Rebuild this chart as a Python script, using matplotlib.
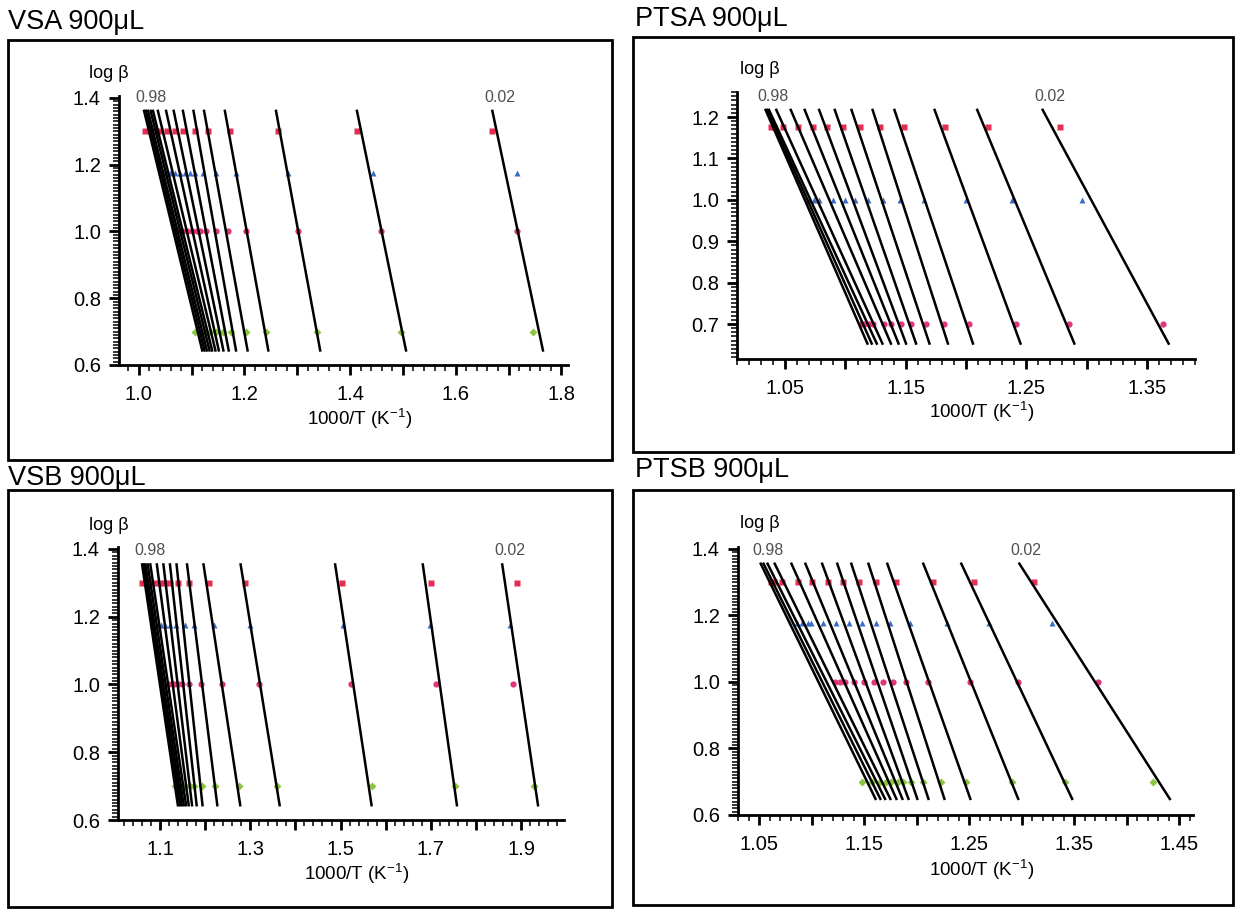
import numpy as np
import matplotlib
matplotlib.use("Agg")
import matplotlib.pyplot as plt
from matplotlib.patches import Rectangle
from matplotlib.ticker import FixedLocator, MultipleLocator, FuncFormatter

plt.rcParams['font.family'] = ['Liberation Sans', 'DejaVu Sans']
plt.rcParams['mathtext.fontset'] = 'custom'
plt.rcParams['mathtext.rm'] = 'Liberation Sans'

# ---------------- data ----------------
LEVEL_20 = np.log10(20)
LEVEL_15 = np.log10(15)
LEVEL_10 = np.log10(10)
LEVEL_5 = np.log10(5)

# VSA 900uL
vsa_line_top = [1.0094, 1.0131, 1.0169, 1.0219, 1.0263, 1.0356, 1.0512, 1.0656, 1.0831, 1.1031, 1.1231, 1.1625, 1.2593, 1.4125, 1.6688]
vsa_line_bot = [1.1206, 1.1250, 1.1294, 1.1344, 1.1394, 1.1456, 1.1519, 1.1606, 1.1706, 1.1844, 1.2063, 1.2456, 1.3438, 1.5063, 1.7656]
vsa_line_y = [1.365, 0.64]
vsa_red = [1.0126, 1.0219, 1.0313, 1.0407, 1.0531, 1.0688, 1.0844, 1.1063, 1.1313, 1.1719, 1.2644, 1.4138, 1.6688]
vsa_blue = [1.05, 1.0594, 1.0688, 1.0781, 1.0875, 1.0969, 1.1063, 1.1219, 1.1456, 1.1844, 1.2831, 1.4438, 1.7156]
vsa_magenta = [1.0719, 1.0813, 1.0906, 1.1, 1.1094, 1.1156, 1.1281, 1.1469, 1.1688, 1.2031, 1.3019, 1.4594, 1.7156]
vsa_green = [1.1063, 1.1157, 1.1251, 1.1344, 1.1468, 1.1594, 1.1749, 1.2031, 1.2406, 1.3375, 1.4956, 1.7456]

# PTSA 900uL
ptsa_line_top = [1.0333, 1.0347, 1.0361, 1.0422, 1.0542, 1.0658, 1.0778, 1.0908, 1.1047, 1.1222, 1.1403, 1.1736, 1.2089, 1.2631]
ptsa_line_bot = [1.1186, 1.1222, 1.1264, 1.1311, 1.1381, 1.1444, 1.1506, 1.1589, 1.1700, 1.1853, 1.2061, 1.2456, 1.2903, 1.3686]
ptsa_line_y = [1.22, 0.65]
ptsa_red = [1.0381, 1.0408, 1.0478, 1.0603, 1.0728, 1.0844, 1.0978, 1.1117, 1.1283, 1.1483, 1.1825, 1.2186, 1.2783]
ptsa_blue = [1.07, 1.0742, 1.0783, 1.0894, 1.0992, 1.1083, 1.1186, 1.1311, 1.145, 1.165, 1.2, 1.2381, 1.2964]
ptsa_magenta = [1.1125, 1.1153, 1.1194, 1.1228, 1.1317, 1.1381, 1.1464, 1.1547, 1.1667, 1.1819, 1.2028, 1.2417, 1.2858, 1.3631]

# VSB 900uL
vsb_line_top = [1.06, 1.0636, 1.0673, 1.0724, 1.0782, 1.0927, 1.1073, 1.1218, 1.1364, 1.1596, 1.196, 1.2782, 1.4876, 1.6818, 1.8578]
vsb_line_bot = [1.14, 1.1444, 1.1487, 1.1531, 1.1582, 1.164, 1.1713, 1.1815, 1.1945, 1.2273, 1.2782, 1.3655, 1.5691, 1.7582, 1.9378]
vsb_line_y = [1.358, 0.64]
vsb_red = [1.06, 1.0695, 1.0782, 1.0891, 1.1, 1.1109, 1.1218, 1.14, 1.164, 1.2076, 1.2891, 1.5036, 1.6999, 1.8913]
vsb_blue = [1.084, 1.0927, 1.1015, 1.1109, 1.1218, 1.1364, 1.1545, 1.1764, 1.22, 1.3, 1.5058, 1.6978, 1.8745]
vsb_magenta = [1.1204, 1.1305, 1.14, 1.1495, 1.164, 1.1909, 1.2382, 1.3196, 1.5233, 1.7109, 1.8818]
vsb_green = [1.1327, 1.1436, 1.1545, 1.1655, 1.1764, 1.1931, 1.2222, 1.2745, 1.3582, 1.5691, 1.7545, 1.9291]

# PTSB 900uL
ptsb_line_top = [1.0511, 1.0538, 1.0576, 1.0644, 1.0804, 1.0937, 1.1097, 1.1241, 1.1375, 1.1538, 1.1717, 1.2059, 1.242, 1.2971]
ptsb_line_bot = [1.1614, 1.166, 1.1705, 1.1755, 1.1812, 1.1869, 1.1926, 1.201, 1.2116, 1.2268, 1.2515, 1.2971, 1.3485, 1.4416]
ptsb_line_y = [1.359, 0.645]
ptsb_red = [1.061, 1.0642, 1.072, 1.0872, 1.1004, 1.1161, 1.1303, 1.1454, 1.1618, 1.1807, 1.2154, 1.2547, 1.3114]
ptsb_blue = [1.0862, 1.0909, 1.0966, 1.0998, 1.1105, 1.1231, 1.1357, 1.1483, 1.1609, 1.1744, 1.1933, 1.2289, 1.2689, 1.3287]
ptsb_magenta = [1.1224, 1.1272, 1.1319, 1.1407, 1.1502, 1.1596, 1.1681, 1.1776, 1.1902, 1.2106, 1.2509, 1.2963, 1.3728]
ptsb_green = [1.1476, 1.1571, 1.165, 1.1713, 1.176, 1.1823, 1.187, 1.1949, 1.2059, 1.2232, 1.2469, 1.2909, 1.3413, 1.4248]

titles = ["VSA 900μL", "PTSA 900μL", "VSB 900μL", "PTSB 900μL"]
frac_labels = ["0.98", "0.02"]

# ---------------- styles ----------------
RED = '#e62e55'
BLUE = '#3a6cc8'
MAGENTA = '#e0367a'
GREEN = '#8cc640'

W, H = 1241, 909
fig = plt.figure(figsize=(W / 100, H / 100), dpi=100)


def px_axes(l, t, r, b):
    return fig.add_axes([l / W, 1 - b / H, (r - l) / W, (b - t) / H])


def frame(l, t, r, b):
    fig.add_artist(Rectangle((l / W, 1 - b / H), (r - l) / W, (b - t) / H,
                             transform=fig.transFigure, fill=False,
                             lw=2.0, ec='black'))


def panel(rect, box, title, title_xy, xlim, ylim, xmajor, xlabels, xminor,
          ymajor, ylabels, yminor, line_top, line_bot, line_y, series, logb_xy, xlab_y):
    frame(*box)
    fig.text(title_xy[0] / W, 1 - title_xy[1] / H, title, fontsize=19.5,
             va='center', ha='left')
    ax = px_axes(*rect)
    for xt, xb in zip(line_top, line_bot):
        ax.plot([xt, xb], line_y, color='black', lw=1.8, zorder=3,
                solid_capstyle='butt')
    for xs, y, c, m, ms in series:
        ax.plot(xs, [y] * len(xs), ls='none', marker=m, color=c, ms=ms,
                mec='none', zorder=2)
    ax.set_xlim(*xlim)
    ax.set_ylim(*ylim)
    for s in ['top', 'right']:
        ax.spines[s].set_visible(False)
    for s in ['left', 'bottom']:
        ax.spines[s].set_linewidth(2.0)
    ax.xaxis.set_major_locator(FixedLocator(xmajor))
    ax.xaxis.set_major_formatter(FuncFormatter(
        lambda v, p, L=xlabels: next((s for s in L if abs(float(s) - v) < 1e-6), '')))
    ax.xaxis.set_minor_locator(MultipleLocator(xminor))
    ax.yaxis.set_major_locator(FixedLocator(ymajor))
    ax.yaxis.set_major_formatter(FuncFormatter(
        lambda v, p, L=ylabels: next((s for s in L if abs(float(s) - v) < 1e-6), '')))
    ax.yaxis.set_minor_locator(MultipleLocator(yminor))
    ax.tick_params(which='major', direction='out', length=7, width=2.0,
                   labelsize=14.5)
    ax.tick_params(which='minor', direction='out', length=4, width=1.1)
    ax.tick_params(axis='x', which='major', pad=7.5)
    ax.tick_params(axis='y', which='major', pad=6)
    ax.patch.set_alpha(0)
    # fraction labels
    ax.annotate(frac_labels[0], xy=(line_top[0], line_y[0]), xytext=(5.5, 9),
                textcoords='offset points', ha='center', va='center',
                fontsize=11.5, color='#505050', annotation_clip=False)
    ax.annotate(frac_labels[1], xy=(line_top[-1], line_y[0]), xytext=(5.5, 9),
                textcoords='offset points', ha='center', va='center',
                fontsize=11.5, color='#505050', annotation_clip=False)
    fig.text(logb_xy[0] / W, 1 - logb_xy[1] / H, 'log β', fontsize=13,
             ha='center', va='center')
    cx = (rect[0] + rect[2]) / 2 + 16
    fig.text(cx / W, 1 - xlab_y / H, r'1000/T (K$^{\mathregular{-1}}$)',
             fontsize=13.5, ha='center', va='center')
    return ax


panel((119, 96.3, 568, 365), (8, 40, 612, 460), titles[0], (8, 22),
      (0.9625, 1.8125), (0.6, 1.405), list(np.round(np.arange(1.0, 1.81, 0.1), 2)),
      ['1.0', '1.2', '1.4', '1.6', '1.8'], 0.02,
      [0.6, 0.8, 1.0, 1.2, 1.4], ['0.6', '0.8', '1.0', '1.2', '1.4'], 0.01,
      vsa_line_top, vsa_line_bot, vsa_line_y,
      [(vsa_red, LEVEL_20, RED, 's', 4.6), (vsa_blue, LEVEL_15, BLUE, '^', 4.8),
       (vsa_magenta, LEVEL_10, MAGENTA, 'o', 4.5), (vsa_green, LEVEL_5, GREEN, 'D', 3.6)],
      (109, 74), 419)

panel((737, 92.2, 1195, 359.2), (633, 37, 1233, 452), titles[1], (635, 19),
      (1.01, 1.39), (0.615, 1.26), list(np.round(np.arange(1.05, 1.39, 0.05), 2)),
      ['1.05', '1.15', '1.25', '1.35'], 0.01,
      [0.7, 0.8, 0.9, 1.0, 1.1, 1.2], ['0.7', '0.8', '0.9', '1.0', '1.1', '1.2'], 0.01,
      ptsa_line_top, ptsa_line_bot, ptsa_line_y,
      [(ptsa_red, LEVEL_15, RED, 's', 4.6), (ptsa_blue, LEVEL_10, BLUE, '^', 4.8),
       (ptsa_magenta, LEVEL_5, MAGENTA, 'o', 4.5)],
      (760, 70), 412)

panel((118, 547.3, 564, 820), (8, 490, 612, 907), titles[2], (8, 478),
      (1.007, 1.995), (0.6, 1.405), list(np.round(np.arange(1.1, 1.99, 0.1), 2)),
      ['1.1', '1.3', '1.5', '1.7', '1.9'], 0.02,
      [0.6, 0.8, 1.0, 1.2, 1.4], ['0.6', '0.8', '1.0', '1.2', '1.4'], 0.01,
      vsb_line_top, vsb_line_bot, vsb_line_y,
      [(vsb_red, LEVEL_20, RED, 's', 4.6), (vsb_blue, LEVEL_15, BLUE, '^', 4.8),
       (vsb_magenta, LEVEL_10, MAGENTA, 'o', 4.5), (vsb_green, LEVEL_5, GREEN, 'D', 3.6)],
      (109, 525), 874)

panel((738, 547.3, 1193, 815), (633, 490, 1233, 905), titles[3], (635, 470),
      (1.03, 1.463), (0.6, 1.405), list(np.round(np.arange(1.05, 1.46, 0.05), 2)),
      ['1.05', '1.15', '1.25', '1.35', '1.45'], 0.01,
      [0.6, 0.8, 1.0, 1.2, 1.4], ['0.6', '0.8', '1.0', '1.2', '1.4'], 0.01,
      ptsb_line_top, ptsb_line_bot, ptsb_line_y,
      [(ptsb_red, LEVEL_20, RED, 's', 4.6), (ptsb_blue, LEVEL_15, BLUE, '^', 4.8),
       (ptsb_magenta, LEVEL_10, MAGENTA, 'o', 4.5), (ptsb_green, LEVEL_5, GREEN, 'D', 3.6)],
      (760, 523), 870)

fig.savefig('out.png', dpi=100)
